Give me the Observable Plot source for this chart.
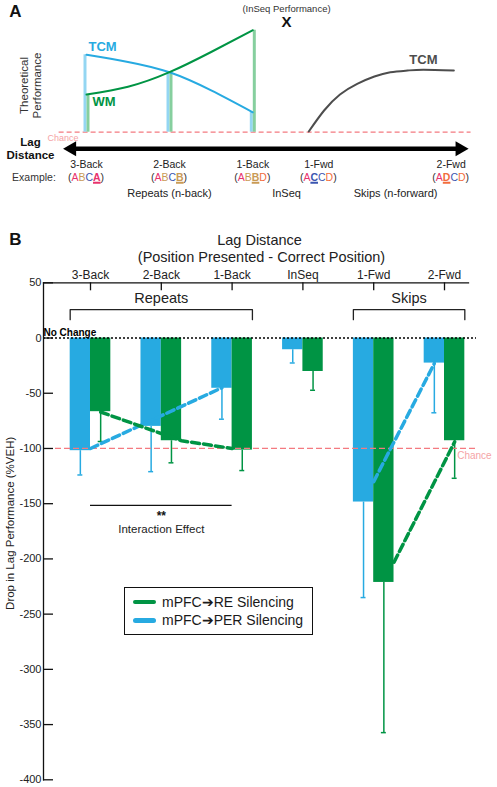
<!DOCTYPE html>
<html>
<head>
<meta charset="utf-8">
<script src="https://cdn.jsdelivr.net/npm/d3@7"></script>
<script src="https://cdn.jsdelivr.net/npm/@observablehq/plot@0.6"></script>
<style>
  html, body { margin: 0; padding: 0; background: #fff; overflow: hidden; }
  body { font-family: "Liberation Sans", Arial, Helvetica, sans-serif; }
  #wrap { position: relative; width: 497px; height: 787px; }
  #wrap svg { display: block; }
  .ex { position: absolute; font-size: 10.5px; transform: translate(-50%, -50%); white-space: nowrap; color: #333; line-height: 1; }
  .ex b { text-decoration: underline; text-decoration-thickness: 1.5px; text-underline-offset: 1px; }
  .legend { position: absolute; box-sizing: border-box; border: 1.5px solid #111; background: #fff; }
  .legend .row { position: absolute; left: 0; height: 18px; width: 100%; }
  .legend .sw { position: absolute; left: 8px; top: 7px; width: 23px; height: 4.5px; border-radius: 2.5px; }
  .legend .tx { position: absolute; left: 37px; top: 0; font-size: 14px; line-height: 18px; color: #1a1a1a; white-space: nowrap; }
</style>
</head>
<body>
<div id="wrap"></div>
<script>
// ================= DATA =================
// Panel A (theoretical schematic)
const lagCategories = ["3-Back", "2-Back", "1-Back", "InSeq", "1-Fwd", "2-Fwd"];
const lagValues = [-3, -2, -1, 0, 1, 2];
const groupLabels = ["Repeats (n-back)", "InSeq", "Skips (n-forward)"];
const groupLags = [-2, 0, 1.58];
const exampleCats = ["3-Back", "2-Back", "1-Back", "1-Fwd", "2-Fwd"];
const exampleSequences = ["ABCA", "ABCB", "ABBD", "ACCD", "ADCD"];
const exampleProbe = [3, 3, 2, 1, 1];
const tcmLag = [-3, -2.5, -2, -1.5, -1];
const tcmPerf = [0.774, 0.703, 0.599, 0.418, 0.199];
const wmLag = [-3, -2.5, -2, -1.5, -1];
const wmPerf = [0.377, 0.454, 0.600, 0.802, 1.020];
const skipTcmLag = [0.69, 1.04, 1.16, 1.29, 1.42, 1.54, 1.67, 1.79, 2.02];
const skipTcmPerf = [0.007, 0.217, 0.377, 0.484, 0.557, 0.600, 0.617, 0.624, 0.617];
const inSeqPerformance = 1.107;

// Panel B (measured data)
const categories = ["3-Back", "2-Back", "1-Back", "InSeq", "1-Fwd", "2-Fwd"];
const perValues = [-102, -80, -45.5, -10.6, -148.5, -22.7];
const perErrors = [22, 41, 28, 12, 86.5, 45];
const reValues = [-66.7, -93, -101.5, -30.3, -221.3, -93];
const reErrors = [27, 20, 18.5, 17, 136, 34];
const yTicks = [50, 0, -50, -100, -150, -200, -250, -300, -350, -400];
const seriesNames = ["PER", "RE"];
const legendLabels = ["mPFC\u2794RE Silencing", "mPFC\u2794PER Silencing"];
const legendSeries = ["RE", "PER"];
const groupNames = ["Repeats", "Skips"];
const groupFrom = ["3-Back", "1-Fwd"];
const groupTo = ["1-Back", "2-Fwd"];
// dashed trend lines (point = category, where on that series' bar, value)
const trendPER_repeat = [["3-Back", "right", -100], ["1-Back", "mid", -45]];
const trendRE_repeat = [["3-Back", "mid", -67], ["2-Back", "right", -93], ["1-Back", "left", -100]];
const trendPER_skip = [["1-Fwd", "right", -130], ["2-Fwd", "mid", -23]];
const trendRE_skip = [["1-Fwd", "right", -203], ["2-Fwd", "mid", -94]];
const interactionFrom = "3-Back", interactionTo = "1-Back", interactionY = -151.6;

// ================= STYLE =================
const blue = "#27aae1", green = "#009444", pink = "#f47a80", gray = "#4d4d4d";
const font = "'Liberation Sans', Arial, Helvetica, sans-serif";
const wrap = document.getElementById("wrap");

// ================= PANEL A =================
const barLags = tcmLag.map((l, i) => i).filter(i => Number.isInteger(tcmLag[i]));
const plotA = Plot.plot({
  width: 497, height: 215, margin: 0,
  x: {type: "linear", domain: lagValues, range: [86, 169, 252.3, 286, 318.3, 450.7], axis: null},
  y: {domain: [0, 1], range: [131.7, 31.7], axis: null},
  style: {fontFamily: font, background: "white", overflow: "visible", color: "#222"},
  marks: [
    Plot.ruleY([0], {x1: -3.33, x2: 2.15, stroke: pink, strokeDasharray: "5,3", strokeWidth: 1.2}),
    Plot.ruleX(barLags, {x: i => tcmLag[i], y1: 0, y2: i => tcmPerf[i], dx: -1.5, stroke: "#94d6f2", strokeWidth: 3}),
    Plot.ruleX(barLags, {x: i => wmLag[i], y1: 0, y2: i => wmPerf[i], dx: 1.5, stroke: "#86cf9e", strokeWidth: 3}),
    Plot.line(tcmLag.map((l, i) => i), {x: i => tcmLag[i], y: i => tcmPerf[i], curve: "natural", stroke: blue, strokeWidth: 2}),
    Plot.line(wmLag.map((l, i) => i), {x: i => wmLag[i], y: i => wmPerf[i], curve: "natural", stroke: green, strokeWidth: 2}),
    Plot.line(skipTcmLag.map((l, i) => i), {x: i => skipTcmLag[i], y: i => skipTcmPerf[i], curve: "natural", stroke: gray, strokeWidth: 2}),
    // lag distance arrow
    Plot.ruleY([-0.166], {x1: -3.18, x2: 2.06, stroke: "#000", strokeWidth: 4.5}),
    Plot.dot([-3.28], {x: d => d, y: () => -0.166, dx: 8.5, symbol: "triangle", r: 5.6, rotate: -90, fill: "#000", stroke: null}),
    Plot.dot([2.13], {x: d => d, y: () => -0.166, dx: -8.5, symbol: "triangle", r: 5.6, rotate: 90, fill: "#000", stroke: null}),
    // labels
    Plot.text(["A"], {text: d => d, frameAnchor: "top-left", textAnchor: "middle", lineAnchor: "middle", dx: 15, dy: 11, fontSize: 17, fontWeight: "bold", fill: "#111"}),
    Plot.text(["Theoretical\nPerformance"], {text: d => d, frameAnchor: "top-left", textAnchor: "middle", lineAnchor: "middle", dx: 30, dy: 85, rotate: -90, fontSize: 11.5, lineHeight: 1.15, fill: "#333"}),
    Plot.text(["Lag\nDistance"], {text: d => d, frameAnchor: "top-left", textAnchor: "middle", lineAnchor: "middle", dx: 30, dy: 147.5, fontSize: 11.5, fontWeight: "bold", lineHeight: 1.17, fill: "#111"}),
    Plot.text(["Chance"], {text: d => d, frameAnchor: "top-left", textAnchor: "middle", lineAnchor: "middle", dx: 62.5, dy: 137.7, fontSize: 9, fill: "#f5a3a6"}),
    Plot.text(["TCM"], {text: d => d, x: () => tcmLag[0], y: () => tcmPerf[0], dx: 2, dy: -8, textAnchor: "start", fontSize: 13, fontWeight: "bold", fill: blue}),
    Plot.text(["WM"], {text: d => d, x: () => wmLag[0], y: () => wmPerf[0], dx: 6, dy: 7, textAnchor: "start", fontSize: 13, fontWeight: "bold", fill: green}),
    Plot.text(["TCM"], {text: d => d, x: () => skipTcmLag[7], y: () => skipTcmPerf[7], dy: -9.5, fontSize: 13, fontWeight: "bold", fill: gray}),
    Plot.text(["X"], {text: d => d, x: () => 0, y: () => inSeqPerformance, dy: 1, fontSize: 15, fontWeight: "bold", fill: "#111"}),
    Plot.text(["(InSeq Performance)"], {text: d => d, x: () => 0, y: () => inSeqPerformance, dy: -12.5, fontSize: 9.5, fill: "#333"}),
    Plot.text(lagCategories.filter(c => c !== "InSeq"), {text: d => d, x: d => lagValues[lagCategories.indexOf(d)], y: () => -0.326, fontSize: 10.5, fill: "#222"}),
    Plot.text(groupLabels, {text: d => d, x: (d, i) => groupLags[i], y: () => -0.61, fontSize: 11, fill: "#222"})
  ]
});
wrap.appendChild(plotA);

// example row (multi-coloured letters) as HTML text positioned by panel A's x scale
const letterColor = {A: "#e8336d", B: "#c99a55", C: "#3b55b0", D: "#f26c3c"};
const xA = plotA.scale("x");
function addEx(html, left) {
  const d = document.createElement("div");
  d.className = "ex";
  d.style.left = left + "px";
  d.style.top = "176.5px";
  d.innerHTML = html;
  wrap.appendChild(d);
}
addEx("Example:", 34);
exampleSequences.forEach((seq, k) => {
  const lag = lagValues[lagCategories.indexOf(exampleCats[k])];
  const letters = seq.split("").map((ch, j) => j === exampleProbe[k]
    ? `<b style="color:${letterColor[ch]}">${ch}</b>`
    : `<span style="color:${letterColor[ch]}">${ch}</span>`).join("");
  addEx(`(${letters})`, xA.apply(lag));
});

// ================= PANEL B =================
const bw = 0.287;
const bars = categories.flatMap((c, i) => [
  {cat: c, i, series: "PER", v: perValues[i], e: perErrors[i]},
  {cat: c, i, series: "RE", v: reValues[i], e: reErrors[i]}
]);
const left = d => d.i + (d.series === "PER" ? -bw : 0);
const center = d => left(d) + bw / 2;
function trend(points, series, name) {
  return points.map(([cat, at, y]) => {
    const base = categories.indexOf(cat) + (series === "PER" ? -bw : 0);
    const x = at === "left" ? base : at === "right" ? base + bw : base + bw / 2;
    return {x, y, series, line: name};
  });
}
const trends = [
  ...trend(trendPER_repeat, "PER", "pr"), ...trend(trendRE_repeat, "RE", "rr"),
  ...trend(trendPER_skip, "PER", "ps"), ...trend(trendRE_skip, "RE", "rs")
];
const bracketLow = 16.6, bracketHigh = 25.7;
const brackets = groupNames.flatMap((g, k) => {
  const x0 = categories.indexOf(groupFrom[k]) - bw, x1 = categories.indexOf(groupTo[k]) + bw;
  return [[x0, bracketLow], [x0, bracketHigh], [x1, bracketHigh], [x1, bracketLow]].map(([x, y]) => ({x, y, g}));
});
const idx = categories.map((c, i) => i);

const plotB = Plot.plot({
  width: 497, height: 572,
  marginLeft: 43, marginRight: 29, marginTop: 67.3, marginBottom: 7.7,
  x: {domain: [0, 5], range: [90, 444]},
  y: {domain: [-400, 50], range: [564.3, 67.3]},
  color: {domain: seriesNames, range: [blue, green]},
  style: {fontFamily: font, background: "white", overflow: "visible", color: "#222"},
  marks: [
    Plot.rect(bars, {x1: left, x2: d => left(d) + bw, y1: 0, y2: "v", fill: "series"}),
    Plot.ruleX(bars, {x: center, y1: "v", y2: d => d.v - d.e, stroke: "series", strokeWidth: 1.5}),
    Plot.ruleY(bars, {y: d => d.v - d.e, x1: d => center(d) - 0.035, x2: d => center(d) + 0.035, stroke: "series", strokeWidth: 1.5}),
    Plot.ruleY([0], {stroke: "#000", strokeDasharray: "2,2", strokeWidth: 1.4, insetRight: -8}),
    Plot.ruleY([-100], {stroke: pink, strokeDasharray: "6,3", strokeWidth: 1.2, insetLeft: 12, insetRight: -7}),
    Plot.line(trends, {x: "x", y: "y", z: "line", stroke: "series", strokeWidth: 3.5, strokeDasharray: "8,4"}),
    // axes
    Plot.frame({anchor: "left", stroke: "#111", strokeWidth: 1.3}),
    Plot.frame({anchor: "top", stroke: "#111", strokeWidth: 1.3}),
    Plot.tickY(yTicks, {y: d => d, insetRight: 415, stroke: "#111", strokeWidth: 1.3}),
    Plot.tickX(idx, {x: d => d, insetBottom: 489, stroke: "#111", strokeWidth: 1.3}),
    Plot.axisY({ticks: yTicks, tickSize: 0, tickPadding: 2, tickFormat: d => String(d), fontSize: 11, label: null}),
    Plot.axisX({anchor: "top", ticks: idx, tickFormat: i => categories[i], tickSize: 0, tickPadding: 4, fontSize: 12, label: null}),
    // brackets
    Plot.line(brackets, {x: "x", y: "y", z: "g", stroke: "#222", strokeWidth: 1.3}),
    Plot.text(groupNames, {text: d => d, x: (d, k) => (categories.indexOf(groupFrom[k]) + categories.indexOf(groupTo[k])) / 2, y: () => bracketHigh, dy: -11, fontSize: 14.5, fill: "#222"}),
    // annotations
    Plot.text(["No Change"], {text: d => d, y: () => 0, frameAnchor: "left", textAnchor: "start", lineAnchor: "bottom", dy: -2, fontSize: 10, fontWeight: "bold", fill: "#000"}),
    Plot.text(["Chance"], {text: d => d, x: () => 5, y: () => -100, dx: 12.7, dy: 7.5, textAnchor: "start", fontSize: 10, fill: "#f5a3a6"}),
    Plot.ruleY([interactionY], {x1: categories.indexOf(interactionFrom), x2: categories.indexOf(interactionTo), stroke: "#111", strokeWidth: 1.3}),
    Plot.text(["**"], {text: d => d, x: () => 1, y: () => interactionY, dy: 10.5, fontSize: 12, fontWeight: "bold", fill: "#111"}),
    Plot.text(["Interaction Effect"], {text: d => d, x: () => 1, y: () => interactionY, dy: 23.5, fontSize: 11.5, fill: "#222"}),
    // titles
    Plot.text(["B"], {text: d => d, frameAnchor: "top-left", textAnchor: "middle", lineAnchor: "middle", dx: -28, dy: -43, fontSize: 17, fontWeight: "bold", fill: "#111"}),
    Plot.text(["Lag Distance"], {text: d => d, frameAnchor: "top", lineAnchor: "middle", dx: 3.5, dy: -42.3, fontSize: 14.5, fill: "#222"}),
    Plot.text(["(Position Presented - Correct Position)"], {text: d => d, frameAnchor: "top", lineAnchor: "middle", dx: 5.5, dy: -25.3, fontSize: 14.5, fill: "#222"}),
    Plot.text(["Drop in Lag Performance (%VEH)"], {text: d => d, frameAnchor: "left", textAnchor: "middle", lineAnchor: "middle", dx: -33, dy: -8, rotate: -90, fontSize: 11.5, fill: "#222"})
  ]
});
wrap.appendChild(plotB);

// legend (HTML, placed over panel B)
const lg = document.createElement("div");
lg.className = "legend";
Object.assign(lg.style, {left: "124px", top: "587px", width: "189px", height: "48px"});
legendLabels.forEach((lab, k) => {
  const row = document.createElement("div");
  row.className = "row";
  row.style.top = (4.5 + k * 18.6) + "px";
  const sw = document.createElement("div");
  sw.className = "sw";
  sw.style.background = legendSeries[k] === "RE" ? green : blue;
  const tx = document.createElement("div");
  tx.className = "tx";
  tx.textContent = lab;
  row.appendChild(sw); row.appendChild(tx);
  lg.appendChild(row);
});
wrap.appendChild(lg);
</script>
</body>
</html>
